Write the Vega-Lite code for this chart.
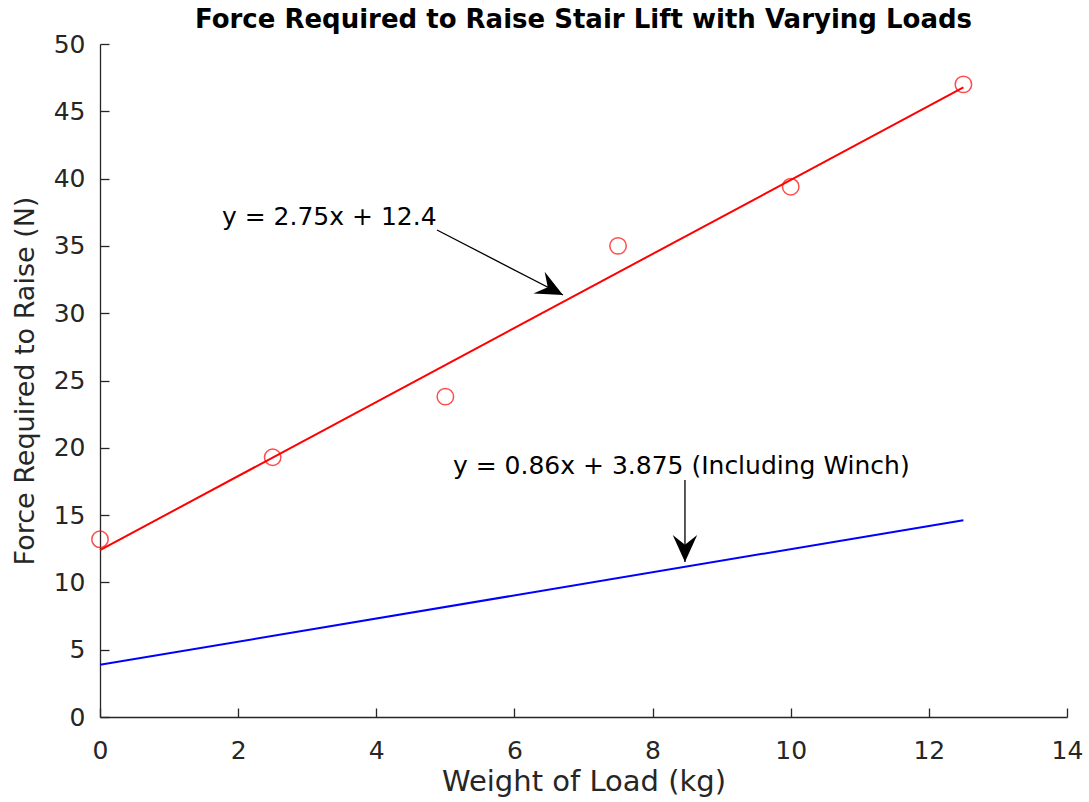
{
  "$schema": "https://vega.github.io/schema/vega-lite/v6.json",
  "autosize": "none",
  "width": 967,
  "height": 673,
  "padding": {"left": 100, "top": 44, "right": 22, "bottom": 85},
  "background": "white",
  "title": {"text": "Force Required to Raise Stair Lift with Varying Loads", "font": "DejaVu Sans", "fontSize": 26, "fontWeight": "bold", "color": "#000000", "anchor": "middle", "frame": "group", "offset": -1},
  "config": {"view": {"stroke": null}, "font": "DejaVu Sans"},
  "datasets": {
    "measured": [
      {"load": 0, "force": 13.2},
      {"load": 2.5, "force": 19.3},
      {"load": 5, "force": 23.8},
      {"load": 7.5, "force": 35.0},
      {"load": 10, "force": 39.4},
      {"load": 12.5, "force": 47.0}
    ],
    "fits": [
      {"series": "fit", "load": 0, "force": 12.4},
      {"series": "fit", "load": 12.5, "force": 46.775},
      {"series": "winch", "load": 0, "force": 3.875},
      {"series": "winch", "load": 12.5, "force": 14.625}
    ],
    "arrows": [
      {"x0": 4.879, "y0": 36.18, "x1": 6.703, "y1": 31.35, "angle": 117.3},
      {"x0": 8.469, "y0": 17.61, "x1": 8.469, "y1": 11.52, "angle": 180}
    ],
    "labels": [
      {"x": 1.766, "y": 37.15, "label": "y = 2.75x + 12.4"},
      {"x": 5.11, "y": 18.65, "label": "y = 0.86x + 3.875 (Including Winch)"}
    ]
  },
  "layer": [
    {
      "data": {"name": "fits"},
      "mark": {"type": "line", "strokeWidth": 2},
      "encoding": {
        "x": {"field": "load", "type": "quantitative", "scale": {"domain": [0, 14], "nice": false},
          "axis": {"title": "Weight of Load (kg)", "values": [0,2,4,6,8,10,12,14], "format": "d", "labelFlush": false, "grid": false, "domainColor": "#262626", "domainWidth": 1.3, "tickColor": "#262626", "tickWidth": 1.3, "tickSize": -9, "labelPadding": 30, "labelFontSize": 25, "labelColor": "#262626", "labelFont": "DejaVu Sans", "titleFont": "DejaVu Sans", "titleFontSize": 29, "titleFontWeight": "normal", "titleColor": "#262626", "titlePadding": 4}},
        "y": {"field": "force", "type": "quantitative", "scale": {"domain": [0, 50], "nice": false},
          "axis": {"title": "Force Required to Raise (N)", "values": [0,5,10,15,20,25,30,35,40,45,50], "format": "d", "labelFlush": false, "grid": false, "domainColor": "#262626", "domainWidth": 1.3, "tickColor": "#262626", "tickWidth": 1.3, "tickSize": -9, "labelPadding": 24, "labelFontSize": 25, "labelColor": "#262626", "labelFont": "DejaVu Sans", "titleFont": "DejaVu Sans", "titleFontSize": 27, "titleFontWeight": "normal", "titleColor": "#262626", "titlePadding": 14}},
        "color": {"field": "series", "type": "nominal", "scale": {"domain": ["fit", "winch"], "range": ["#ff0000", "#0000ff"]}, "legend": null}
      }
    },
    {
      "data": {"name": "measured"},
      "mark": {"type": "point", "shape": "circle", "filled": false, "color": "#ff0000", "size": 270, "strokeWidth": 1.5},
      "encoding": {
        "x": {"field": "load", "type": "quantitative"},
        "y": {"field": "force", "type": "quantitative"}
      }
    },
    {
      "data": {"name": "arrows"},
      "mark": {"type": "rule", "color": "#000000", "strokeWidth": 1.3},
      "encoding": {
        "x": {"field": "x0", "type": "quantitative"},
        "y": {"field": "y0", "type": "quantitative"},
        "x2": {"field": "x1"},
        "y2": {"field": "y1"}
      }
    },
    {
      "data": {"name": "arrows"},
      "mark": {"type": "point", "shape": "M0,0L1,2.2L0,1.4L-1,2.2Z", "filled": true, "color": "#000000", "opacity": 1, "size": 600, "strokeWidth": 0},
      "encoding": {
        "x": {"field": "x1", "type": "quantitative"},
        "y": {"field": "y1", "type": "quantitative"},
        "angle": {"field": "angle", "type": "quantitative", "scale": null}
      }
    },
    {
      "data": {"name": "labels"},
      "mark": {"type": "text", "align": "left", "baseline": "middle", "fontSize": 25, "font": "DejaVu Sans", "color": "#000000"},
      "encoding": {
        "x": {"field": "x", "type": "quantitative"},
        "y": {"field": "y", "type": "quantitative"},
        "text": {"field": "label"}
      }
    }
  ]
}
